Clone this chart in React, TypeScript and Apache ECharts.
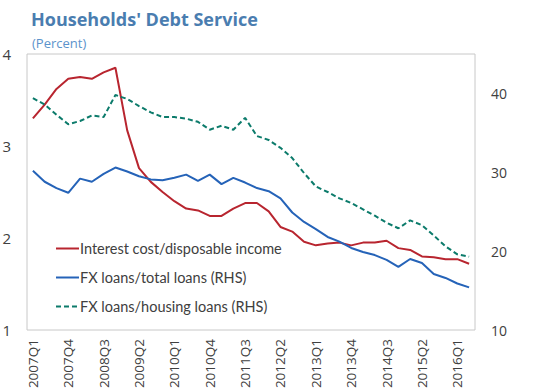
import React, { useEffect, useRef } from "react";
import * as echarts from "echarts";

const years = [2007, 2008, 2009, 2010, 2011, 2012, 2013, 2014, 2015, 2016];
const quarters: string[] = [];
years.forEach((y) => {
  for (let q = 1; q <= 4; q++) {
    if (y === 2016 && q > 2) continue;
    quarters.push(`${y}Q${q}`);
  }
});

const interestCost = [
  3.30, 3.45, 3.62, 3.73, 3.75, 3.73, 3.80, 3.85, 3.17, 2.76,
  2.61, 2.50, 2.40, 2.32, 2.30, 2.24, 2.24, 2.32, 2.38, 2.38,
  2.29, 2.12, 2.07, 1.96, 1.92, 1.94, 1.95, 1.92, 1.95, 1.95,
  1.97, 1.89, 1.87, 1.80, 1.79, 1.77, 1.77, 1.72,
];

const fxTotal = [
  30.2, 28.8, 28.0, 27.4, 29.2, 28.8, 29.8, 30.6, 30.1, 29.5,
  29.1, 29.0, 29.3, 29.7, 28.9, 29.7, 28.5, 29.3, 28.7, 28.0,
  27.6, 26.7, 24.9, 23.7, 22.8, 21.8, 21.2, 20.4, 19.9, 19.5,
  18.9, 18.0, 19.0, 18.5, 17.1, 16.6, 15.9, 15.4,
];

const fxHousing = [
  39.4, 38.6, 37.3, 36.1, 36.5, 37.2, 37.0, 39.8, 39.3, 38.4,
  37.6, 37.0, 37.0, 36.8, 36.4, 35.4, 35.9, 35.4, 36.9, 34.6,
  34.1, 33.1, 31.8, 29.9, 28.2, 27.5, 26.7, 26.1, 25.3, 24.5,
  23.6, 22.9, 23.9, 23.3, 22.0, 20.6, 19.6, 19.3,
];

const FONT = "Open Sans";

export default function App() {
  const ref = useRef<HTMLDivElement>(null);
  useEffect(() => {
    if (!ref.current) return;
    const chart = echarts.init(ref.current, undefined, { renderer: "svg" });
    chart.setOption({
      animation: false,
      textStyle: { fontFamily: FONT },
      title: [
        {
          text: "Households' Debt Service",
          left: 26,
          top: 5,
          textStyle: { fontFamily: FONT, fontSize: 18, fontWeight: "bold", color: "#4a7db0" },
        },
        {
          text: "(Percent)",
          left: 27,
          top: 31,
          textStyle: { fontFamily: FONT, fontSize: 13, fontWeight: "normal", color: "#5b93cc" },
        },
      ],
      grid: {
        left: 27,
        right: 61,
        top: 54,
        bottom: 61,
        show: true,
        borderColor: "#c8c8c8",
        borderWidth: 1,
        containLabel: false,
        outerBoundsMode: "none",
      },
      legend: {
        orient: "vertical",
        left: 50,
        top: 236,
        itemWidth: 23,
        itemHeight: 8,
        itemGap: 14,
        itemStyle: { opacity: 0 },
        textStyle: { fontFamily: "Lato", fontSize: 14.5, color: "#404040", padding: [0, 0, 0, -4] },
        data: [
          "Interest cost/disposable income",
          "FX loans/total loans (RHS)",
          "FX loans/housing loans (RHS)",
        ],
      },
      xAxis: {
        type: "category",
        data: quarters,
        boundaryGap: true,
        axisLine: { show: false },
        axisTick: { show: false },
        axisLabel: {
          interval: 2,
          rotate: 90,
          fontFamily: FONT,
          fontSize: 13.5,
          color: "#404040",
          margin: 9,
        },
      },
      yAxis: [
        {
          type: "value",
          min: 1,
          max: 4,
          interval: 1,
          splitLine: { show: false },
          axisLine: { show: false },
          axisTick: { show: false },
          axisLabel: { fontFamily: FONT, fontSize: 15, color: "#404040", margin: 16 },
        },
        {
          type: "value",
          min: 10,
          max: 45,
          interval: 10,
          splitLine: { show: false },
          axisLine: { show: false },
          axisTick: { show: false },
          axisLabel: { fontFamily: FONT, fontSize: 14, color: "#404040", margin: 16, showMaxLabel: false },
        },
      ],
      series: [
        {
          name: "Interest cost/disposable income",
          type: "line",
          yAxisIndex: 0,
          data: interestCost,
          symbol: "none",
          lineStyle: { color: "#b8252f", width: 2 },
          itemStyle: { color: "#b8252f" },
        },
        {
          name: "FX loans/total loans (RHS)",
          type: "line",
          yAxisIndex: 1,
          data: fxTotal,
          symbol: "none",
          lineStyle: { color: "#2563b8", width: 2 },
          itemStyle: { color: "#2563b8" },
        },
        {
          name: "FX loans/housing loans (RHS)",
          type: "line",
          yAxisIndex: 1,
          data: fxHousing,
          symbol: "none",
          lineStyle: { color: "#0c7b6b", width: 2, type: [5, 3] },
          itemStyle: { color: "#0c7b6b" },
        },
      ],
    });
    return () => chart.dispose();
  }, []);
  return <div ref={ref} style={{ width: 536, height: 391, position: "absolute", left: 0, top: 0 }} />;
}
